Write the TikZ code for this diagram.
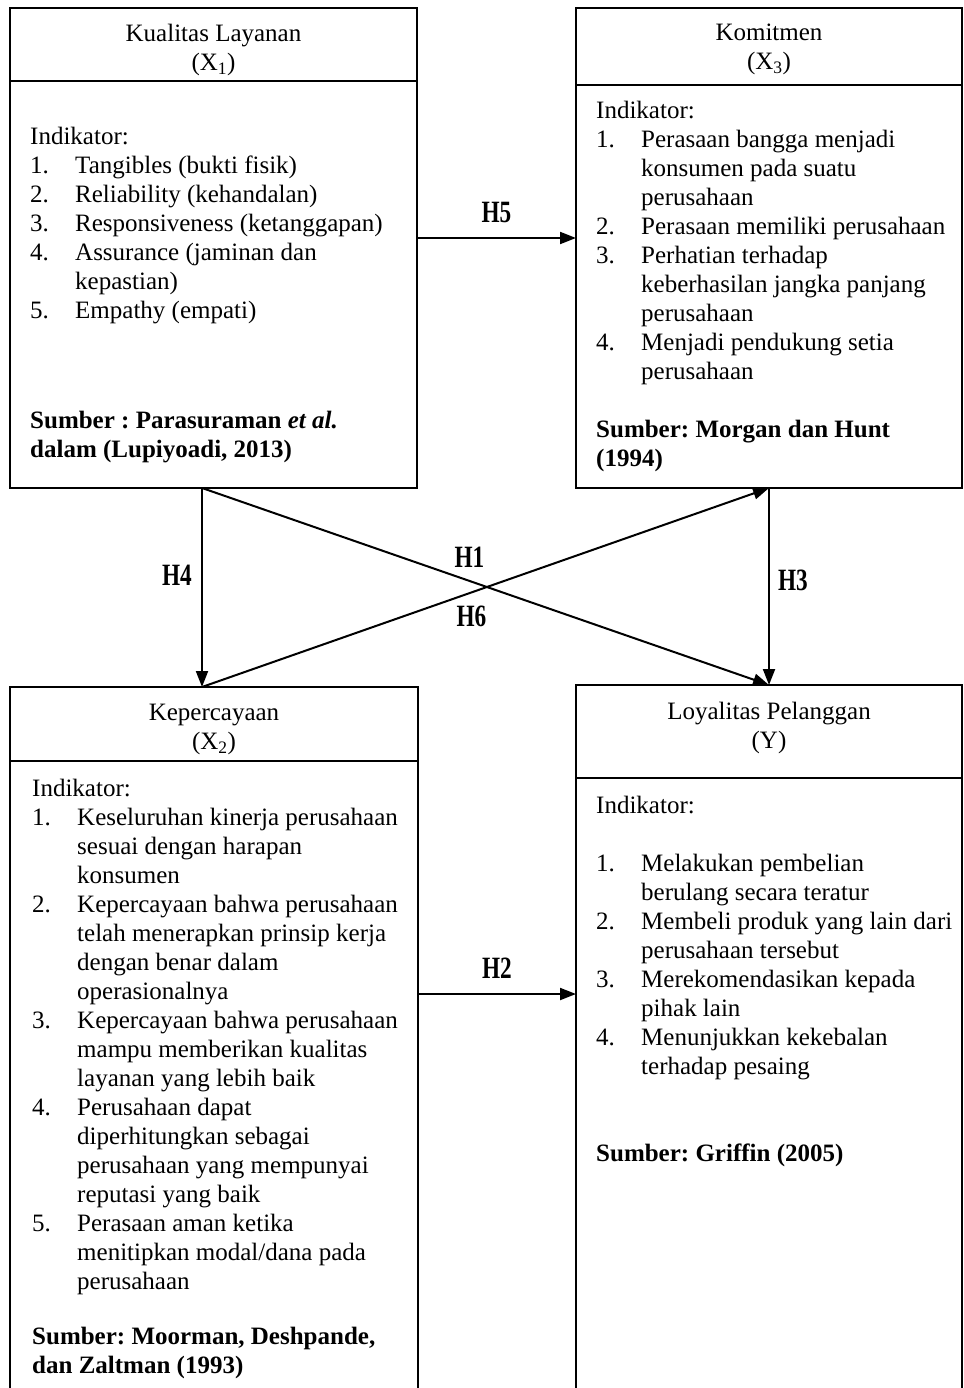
\documentclass[tikz,border=0pt]{standalone}
\usepackage{fontspec}
\setmainfont{Liberation Serif}
\newfontfamily\hypfont{Liberation Serif}[FakeStretch=0.75]
\usetikzlibrary{positioning,arrows.meta}
\frenchspacing
\newcommand{\itm}[2]{\makebox[45pt][l]{#1}#2}
\newcommand{\cnt}[1]{\hspace*{45pt}#1}

\begin{document}
\begin{tikzpicture}[
  x=1pt, y=-1pt,
  font=\fontsize{25}{29}\selectfont,
  box/.style={draw=black, line width=2pt, inner sep=0pt, outer sep=0pt},
  ttl/.style={inner sep=0pt, align=center, anchor=north},
  txt/.style={inner sep=0pt, align=left, anchor=north west},
  src/.style={txt, font=\fontsize{25}{29}\selectfont\bfseries},
  arr/.style={-{Triangle[length=16pt,width=12pt]}, line width=2pt},
  hyp/.style={inner sep=0pt, font=\fontsize{31}{31}\hypfont\bfseries}
]
\useasboundingbox (0,0) rectangle (963,1388);

% Kualitas Layanan
\node[box, anchor=north west, minimum width=407pt, minimum height=73pt] (x1h) at (10,8) {};
\node[ttl, below=16pt of x1h.north] (x1t) {Kualitas Layanan\\(X\textsubscript{1})};
\node[box, below=0pt of x1h, minimum width=407pt, minimum height=407pt] (x1b) {};
\node[txt, below right=46pt and 20pt of x1b.north west] (x1i) {Indikator:\\
  \itm{1.}{Tangibles (bukti fisik)}\\
  \itm{2.}{Reliability (kehandalan)}\\
  \itm{3.}{Responsiveness (ketanggapan)}\\
  \itm{4.}{Assurance (jaminan dan}\\
  \cnt{kepastian)}\\
  \itm{5.}{Empathy (empati)}};
\node[src, below right=330pt and 20pt of x1b.north west] (x1s) {Sumber : Parasuraman \textit{et al.}\\dalam (Lupiyoadi, 2013)};

% Komitmen
\node[box, anchor=north west, minimum width=386pt, minimum height=77pt] (x3h) at (576,8) {};
\node[ttl, below=16pt of x3h.north] (x3t) {Komitmen\\(X\textsubscript{3})};
\node[box, below=0pt of x3h, minimum width=386pt, minimum height=403pt] (x3b) {};
\node[txt, below right=16pt and 20pt of x3b.north west] (x3i) {Indikator:\\
  \itm{1.}{Perasaan bangga menjadi}\\
  \cnt{konsumen pada suatu}\\
  \cnt{perusahaan}\\
  \itm{2.}{Perasaan memiliki perusahaan}\\
  \itm{3.}{Perhatian terhadap}\\
  \cnt{keberhasilan jangka panjang}\\
  \cnt{perusahaan}\\
  \itm{4.}{Menjadi pendukung setia}\\
  \cnt{perusahaan}};
\node[src, below right=335pt and 20pt of x3b.north west] (x3s) {Sumber: Morgan dan Hunt\\(1994)};

% Kepercayaan
\node[box, anchor=north west, minimum width=408pt, minimum height=74pt] (x2h) at (10,687) {};
\node[ttl, below=17pt of x2h.north] (x2t) {Kepercayaan\\(X\textsubscript{2})};
\node[box, below=0pt of x2h, minimum width=408pt, minimum height=640pt] (x2b) {};
\node[txt, below right=18pt and 22pt of x2b.north west] (x2i) {Indikator:\\
  \itm{1.}{Keseluruhan kinerja perusahaan}\\
  \cnt{sesuai dengan harapan}\\
  \cnt{konsumen}\\
  \itm{2.}{Kepercayaan bahwa perusahaan}\\
  \cnt{telah menerapkan prinsip kerja}\\
  \cnt{dengan benar dalam}\\
  \cnt{operasionalnya}\\
  \itm{3.}{Kepercayaan bahwa perusahaan}\\
  \cnt{mampu memberikan kualitas}\\
  \cnt{layanan yang lebih baik}\\
  \itm{4.}{Perusahaan dapat}\\
  \cnt{diperhitungkan sebagai}\\
  \cnt{perusahaan yang mempunyai}\\
  \cnt{reputasi yang baik}\\
  \itm{5.}{Perasaan aman ketika}\\
  \cnt{menitipkan modal/dana pada}\\
  \cnt{perusahaan}};
\node[src, below right=566pt and 22pt of x2b.north west] (x2s) {Sumber: Moorman, Deshpande,\\dan Zaltman (1993)};

% Loyalitas Pelanggan
\node[box, anchor=north west, minimum width=386pt, minimum height=93pt] (yh) at (576,685) {};
\node[ttl, below=17pt of yh.north] (yt) {Loyalitas Pelanggan\\(Y)};
\node[box, below=0pt of yh, minimum width=386pt, minimum height=623pt] (yb) {};
\node[txt, below right=18pt and 20pt of yb.north west] (yi) {Indikator:\\[29pt]
  \itm{1.}{Melakukan pembelian}\\
  \cnt{berulang secara teratur}\\
  \itm{2.}{Membeli produk yang lain dari}\\
  \cnt{perusahaan tersebut}\\
  \itm{3.}{Merekomendasikan kepada}\\
  \cnt{pihak lain}\\
  \itm{4.}{Menunjukkan kekebalan}\\
  \cnt{terhadap pesaing}};
\node[src, below right=366pt and 20pt of yb.north west] (ys) {Sumber: Griffin (2005)};

% hipotesis
\coordinate (p4) at ([xshift=-11.5pt]x1b.south);
\coordinate (q4) at ([xshift=-12pt]x2h.north);
\coordinate (p5) at ([yshift=46.5pt]x1b.east);
\coordinate (p2) at ([yshift=87pt]x2b.east);
\draw[arr] (p5) -- node[hyp, yshift=25pt] (h5) {H5} (p5 -| x3b.west);
\draw[arr] (p2) -- node[hyp, yshift=26pt] (h2) {H2} (p2 -| yb.west);
\draw[arr] (p4) -- node[hyp, xshift=-25pt, yshift=12pt] (h4) {H4} (q4);
\draw[arr] (p4) -- node[hyp, xshift=-16pt, yshift=29pt] (h1) {H1} (yh.north);
\draw[arr] (q4) -- node[hyp, xshift=-14pt, yshift=-29pt] (h6) {H6} (x3b.south);
\draw[arr] (x3b.south) -- node[hyp, xshift=24pt, yshift=6pt] (h3) {H3} (yh.north);
\end{tikzpicture}
\end{document}
